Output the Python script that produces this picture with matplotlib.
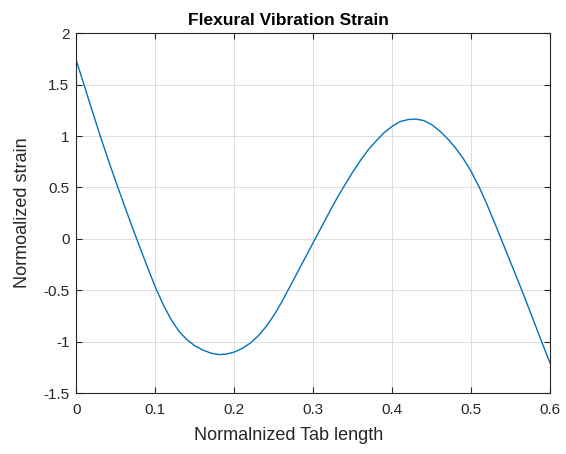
import matplotlib
matplotlib.use('Agg')
import matplotlib.pyplot as plt

# values (every 0.01 of tab length)
tab_length = [i / 100 for i in range(61)]
strain = [1.73, 1.49, 1.245, 1.005, 0.775, 0.555, 0.34, 0.13, -0.075, -0.275,
          -0.47, -0.64, -0.785, -0.90, -0.98, -1.04, -1.08, -1.11, -1.125, -1.12,
          -1.10, -1.065, -1.015, -0.945, -0.855, -0.745, -0.615, -0.47, -0.325, -0.18,
          -0.035, 0.11, 0.255, 0.395, 0.525, 0.65, 0.765, 0.87, 0.955, 1.035,
          1.095, 1.14, 1.16, 1.165, 1.15, 1.11, 1.05, 0.975, 0.885, 0.78,
          0.655, 0.505, 0.335, 0.15, -0.04, -0.23, -0.42, -0.615, -0.815, -1.015,
          -1.21]
xticks = [0, 0.1, 0.2, 0.3, 0.4, 0.5, 0.6]
yticks = [-1.5, -1, -0.5, 0, 0.5, 1, 1.5, 2]

plt.rcParams['font.family'] = ['Liberation Sans', 'DejaVu Sans']
plt.rcParams['axes.unicode_minus'] = False

fig = plt.figure(figsize=(5.66, 4.54), dpi=100)
ax = fig.add_axes([0.135, 0.134, 0.837, 0.793])

ax.plot(tab_length, strain, color='#0072BD', linewidth=1.0)

ax.set_xlim(0, 0.6)
ax.set_ylim(-1.5, 2)
ax.set_xticks(xticks)
ax.set_yticks(yticks)
ax.set_xticklabels(['%g' % t for t in xticks])
ax.set_yticklabels(['%g' % t for t in yticks])

ax.grid(True, color='#dcdcdc', linewidth=0.7)
ax.set_axisbelow(True)
for s in ax.spines.values():
    s.set_color('#262626')
    s.set_linewidth(0.8)
ax.tick_params(direction='in', top=True, right=True, length=4, width=0.8,
               colors='#262626', labelsize=11)
ax.tick_params(axis='x', pad=7)
ax.tick_params(axis='y', pad=5)

# title and x label sit a bit left of the axes centre in the reference
ax.set_title('Flexural Vibration Strain', fontsize=12.5, fontweight='bold', pad=6, x=0.447)
ax.set_xlabel('Normalnized Tab length', fontsize=13, color='#262626', labelpad=7)
ax.xaxis.label.set_x(0.447)
ax.set_ylabel('Normoalized strain', fontsize=13, color='#262626', labelpad=9)

fig.savefig('out.png', dpi=100)
